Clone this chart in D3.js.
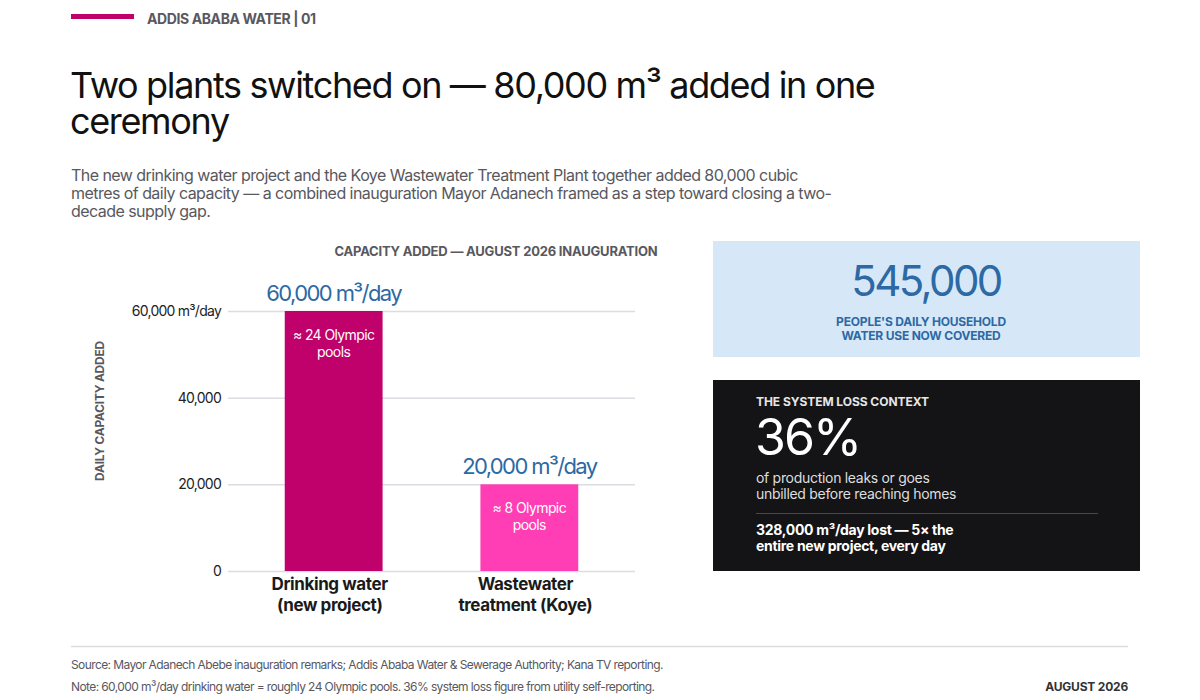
<!DOCTYPE html>
<html>
<head>
<meta charset="utf-8">
<script src="https://cdn.jsdelivr.net/npm/d3@7"></script>
<style>
  body { margin: 0; background: #fff; font-family: Inter, "Noto Sans", sans-serif; }
  svg text { font-family: Inter, "Noto Sans", sans-serif; }
</style>
</head>
<body>
<svg id="chart" width="1200" height="700"></svg>
<script>
// data
var categories = ["Drinking water", "Wastewater treatment"];
var categoryLines = [["Drinking water", "(new project)"], ["Wastewater", "treatment (Koye)"]];
var capacity = [60000, 20000];
var valueLabels = ["60,000 m³/day", "20,000 m³/day"];
var poolLabels = [["≈ 24 Olympic", "pools"], ["≈ 8 Olympic", "pools"]];
var yTicks = [0, 20000, 40000, 60000];
var yTickLabels = ["0", "20,000", "40,000", "60,000 m³/day"];

var BAR_COLORS = ["#c0006b", "#ff3db5"];
var BLUE = "#2c69a5";
var GREY = "#58585e";

var svg = d3.select("#chart");

// header
svg.append("rect").attr("x", 71).attr("y", 14).attr("width", 63).attr("height", 5).attr("fill", "#c0006b");
svg.append("text").attr("x", 147).attr("y", 24).attr("font-size", 14).attr("font-weight", 700)
    .attr("fill", GREY).attr("letter-spacing", -0.4).text("ADDIS ABABA WATER | 01");

var title = ["Two plants switched on — 80,000 m³ added in one", "ceremony"];
svg.append("g").selectAll("text").data(title).join("text")
    .attr("x", 70).attr("y", function(d, i) { return 98 + i * 36; })
    .attr("font-size", 36).attr("fill", "#111").attr("letter-spacing", -1.35)
    .text(function(d) { return d; });

var sub = ["The new drinking water project and the Koye Wastewater Treatment Plant together added 80,000 cubic",
    "metres of daily capacity — a combined inauguration Mayor Adanech framed as a step toward closing a two-",
    "decade supply gap."];
svg.append("g").selectAll("text").data(sub).join("text")
    .attr("x", 71).attr("y", function(d, i) { return 181 + i * 18; })
    .attr("font-size", 16).attr("fill", GREY).attr("letter-spacing", -0.55)
    .text(function(d) { return d; });

// chart
var gridX0 = 228, gridX1 = 635;
var y = d3.scaleLinear().domain([0, 60000]).range([571, 311]);
var x = d3.scaleBand().domain(categories).range([gridX0, gridX1]).paddingInner(0.5).paddingOuter(0.29);

svg.append("text").attr("x", 496).attr("y", 256).attr("text-anchor", "middle")
    .attr("font-size", 13).attr("font-weight", 700).attr("fill", GREY).attr("letter-spacing", -0.2)
    .text("CAPACITY ADDED — AUGUST 2026 INAUGURATION");

var yAxis = d3.axisLeft(y).tickValues(yTicks)
    .tickSize(-(gridX1 - gridX0))
    .tickFormat(function(d, i) { return yTickLabels[i]; });
var ga = svg.append("g").attr("transform", "translate(" + gridX0 + ",0)").call(yAxis);
ga.select(".domain").remove();
ga.selectAll(".tick line").attr("stroke", "#dcdce3").attr("stroke-width", 1.5);
ga.selectAll(".tick text").attr("x", -7).attr("font-size", 14).attr("fill", "#222")
    .attr("letter-spacing", -0.75).attr("dy", "0.32em");

svg.append("text").attr("transform", "translate(104,411) rotate(-90)").attr("text-anchor", "middle")
    .attr("font-size", 12).attr("font-weight", 700).attr("fill", GREY).attr("letter-spacing", -0.25)
    .text("DAILY CAPACITY ADDED");

var bars = svg.append("g").selectAll("g").data(capacity).join("g");
bars.append("rect")
    .attr("x", function(d, i) { return x(categories[i]); })
    .attr("y", function(d) { return y(d); })
    .attr("width", x.bandwidth())
    .attr("height", function(d) { return y(0) - y(d); })
    .attr("fill", function(d, i) { return BAR_COLORS[i]; });
bars.append("text")
    .attr("x", function(d, i) { return x(categories[i]) + x.bandwidth() / 2; })
    .attr("y", function(d) { return y(d) - 10; })
    .attr("text-anchor", "middle").attr("font-size", 22).attr("fill", BLUE).attr("letter-spacing", -1.6)
    .text(function(d, i) { return valueLabels[i]; });
bars.each(function(d, i) {
    var g = d3.select(this);
    var cx = x(categories[i]) + x.bandwidth() / 2;
    g.selectAll("text.pool").data(poolLabels[i]).join("text").attr("class", "pool")
        .attr("x", cx).attr("y", function(t, j) { return y(d) + 29 + j * 17; })
        .attr("text-anchor", "middle").attr("font-size", 14).attr("fill", "#fff").attr("letter-spacing", -0.6)
        .text(function(t) { return t; });
    g.selectAll("text.cat").data(categoryLines[i]).join("text").attr("class", "cat")
        .attr("x", cx - 4).attr("y", function(t, j) { return 590 + j * 21; })
        .attr("text-anchor", "middle").attr("font-size", 17).attr("font-weight", 700).attr("fill", "#1a1a1a")
        .attr("letter-spacing", -0.4)
        .text(function(t) { return t; });
});

// stat cards
svg.append("rect").attr("x", 713).attr("y", 241).attr("width", 427).attr("height", 116).attr("fill", "#d6e8f7");
svg.append("text").attr("x", 926).attr("y", 296).attr("text-anchor", "middle")
    .attr("font-size", 42).attr("fill", BLUE).attr("letter-spacing", -2.6).text("545,000");
svg.append("g").selectAll("text").data(["PEOPLE'S DAILY HOUSEHOLD", "WATER USE NOW COVERED"]).join("text")
    .attr("x", 921).attr("y", function(d, i) { return 326 + i * 14; }).attr("text-anchor", "middle")
    .attr("font-size", 12).attr("font-weight", 700).attr("fill", BLUE).attr("letter-spacing", -0.2)
    .text(function(d) { return d; });

svg.append("rect").attr("x", 713).attr("y", 380).attr("width", 427).attr("height", 191).attr("fill", "#141416");
svg.append("text").attr("x", 756).attr("y", 406).attr("font-size", 12).attr("font-weight", 700)
    .attr("fill", "#e6e6e6").attr("letter-spacing", -0.05).text("THE SYSTEM LOSS CONTEXT");
svg.append("text").attr("x", 755).attr("y", 455).attr("font-size", 50).attr("fill", "#fff")
    .attr("letter-spacing", -2).text("36%");
svg.append("g").selectAll("text").data(["of production leaks or goes", "unbilled before reaching homes"]).join("text")
    .attr("x", 756).attr("y", function(d, i) { return 483 + i * 16; })
    .attr("font-size", 14).attr("fill", "#dedede").attr("letter-spacing", -0.3)
    .text(function(d) { return d; });
svg.append("line").attr("x1", 756).attr("x2", 1098).attr("y1", 513.5).attr("y2", 513.5)
    .attr("stroke", "#48484c").attr("stroke-width", 1);
svg.append("g").selectAll("text").data(["328,000 m³/day lost — 5× the", "entire new project, every day"]).join("text")
    .attr("x", 756).attr("y", function(d, i) { return 535 + i * 16; })
    .attr("font-size", 14).attr("font-weight", 700).attr("fill", "#fff").attr("letter-spacing", -0.3)
    .text(function(d) { return d; });

// footer
svg.append("line").attr("x1", 71).attr("x2", 1128).attr("y1", 646.5).attr("y2", 646.5)
    .attr("stroke", "#dcdce0").attr("stroke-width", 1.5);
svg.append("text").attr("x", 71).attr("y", 669).attr("font-size", 12).attr("fill", GREY).attr("letter-spacing", -0.6)
    .text("Source: Mayor Adanech Abebe inauguration remarks; Addis Ababa Water & Sewerage Authority; Kana TV reporting.");
svg.append("text").attr("x", 71).attr("y", 691).attr("font-size", 12).attr("fill", GREY).attr("letter-spacing", -0.6)
    .text("Note: 60,000 m³/day drinking water = roughly 24 Olympic pools. 36% system loss figure from utility self-reporting.");
svg.append("text").attr("x", 1128).attr("y", 691).attr("text-anchor", "end").attr("font-size", 12)
    .attr("font-weight", 700).attr("fill", "#333").attr("letter-spacing", -0.2).text("AUGUST 2026");
</script>
</body>
</html>
